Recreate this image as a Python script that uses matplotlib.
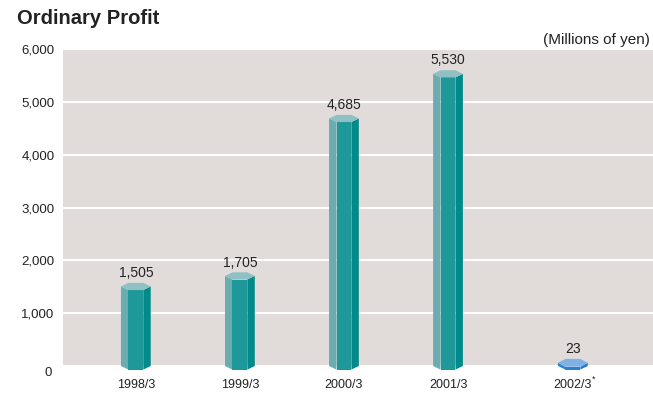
import numpy as np
import matplotlib.pyplot as plt
from matplotlib.patches import Polygon

plt.rcParams['font.family'] = ['Liberation Sans', 'DejaVu Sans']

# data
years = ['1998/3', '1999/3', '2000/3', '2001/3', '2002/3']
profit = [1505, 1705, 4685, 5530, 23]
value_labels = ['1,505', '1,705', '4,685', '5,530', '23']
xpos = [0, 1, 2, 3, 4.2]

teal = {'cap': '#8fc0c3', 'left': '#6aacb0', 'mid': '#1e9898', 'right': '#008a89'}
blue = {'cap': '#7fb2e4', 'left': '#2f82d0', 'mid': '#2d80cf', 'right': '#2a7bc9'}

fig = plt.figure(figsize=(6.53, 3.93), dpi=100)
ax = fig.add_axes([63 / 653, 27 / 393, 590 / 653, 317 / 393])
ax.set_facecolor('#e1dcd9')
ax.set_xlim(-0.70, 4.97)
ax.set_ylim(0, 6000)

hw = 0.143   # half width of the prism
d = 68       # half height of the cap in data units


def prism(ax, c, v, col, dd):
    x0, x1, x2, x3 = c - hw, c - hw / 2, c + hw / 2, c + hw
    faces = [
        ([(x0, v), (x1, v - dd), (x1, -d), (x0, 0)], col['left']),
        ([(x1, v - dd), (x2, v - dd), (x2, -d), (x1, -d)], col['mid']),
        ([(x2, v - dd), (x3, v), (x3, 0), (x2, -d)], col['right']),
        ([(x0, v), (x1, v - dd), (x2, v - dd), (x3, v), (x2, v + dd), (x1, v + dd)], col['cap']),
    ]
    for pts, fc in faces:
        ax.add_patch(Polygon(pts, closed=True, facecolor=fc, edgecolor='none',
                             clip_on=False, zorder=3))


for i, (c, v) in enumerate(zip(xpos, profit)):
    if i == 4:
        # very small value: keep a visible minimum prism
        vd = max(v, 60)
        prism(ax, c, vd, blue, 75)
        top = vd + 75
    else:
        prism(ax, c, v, teal, d)
        top = v + d
    ax.annotate(value_labels[i], (c, top), xytext=(0, 2), textcoords='offset points',
                ha='center', va='bottom', fontsize=10, color='#222222', zorder=4)

ax.set_yticks(range(0, 7000, 1000))
ax.set_yticklabels(['', '1,000', '2,000', '3,000', '4,000', '5,000', '6,000'])
ax.annotate('0', (0, 0), xycoords='axes fraction', xytext=(-8, -5), textcoords='offset points',
            ha='right', va='center', fontsize=9.5, color='#222222')
ax.set_xticks(xpos)
ax.set_xticklabels(years)
ax.tick_params(axis='y', length=0, pad=6, labelsize=9.5, labelcolor='#222222')
ax.tick_params(axis='x', length=0, pad=9, labelsize=9, labelcolor='#222222')
# asterisk on the last year label
ax.annotate('*', (xpos[4], 0), xycoords=('data', 'axes fraction'), xytext=(13.5, -6.5),
            textcoords='offset points', ha='left', va='top', fontsize=6.5, color='#222222')
ax.grid(axis='y', color='white', linewidth=1.5)
ax.set_axisbelow(True)
for s in ax.spines.values():
    s.set_visible(False)

fig.text(17 / 653, 1 - 18 / 393, 'Ordinary Profit', fontsize=14.5, fontweight='bold',
         color='#222222', ha='left', va='center')
fig.text(650 / 653, 1 - 40 / 393, '(Millions of yen)', fontsize=11, color='#222222',
         ha='right', va='center')

fig.savefig('out.png', dpi=100)
